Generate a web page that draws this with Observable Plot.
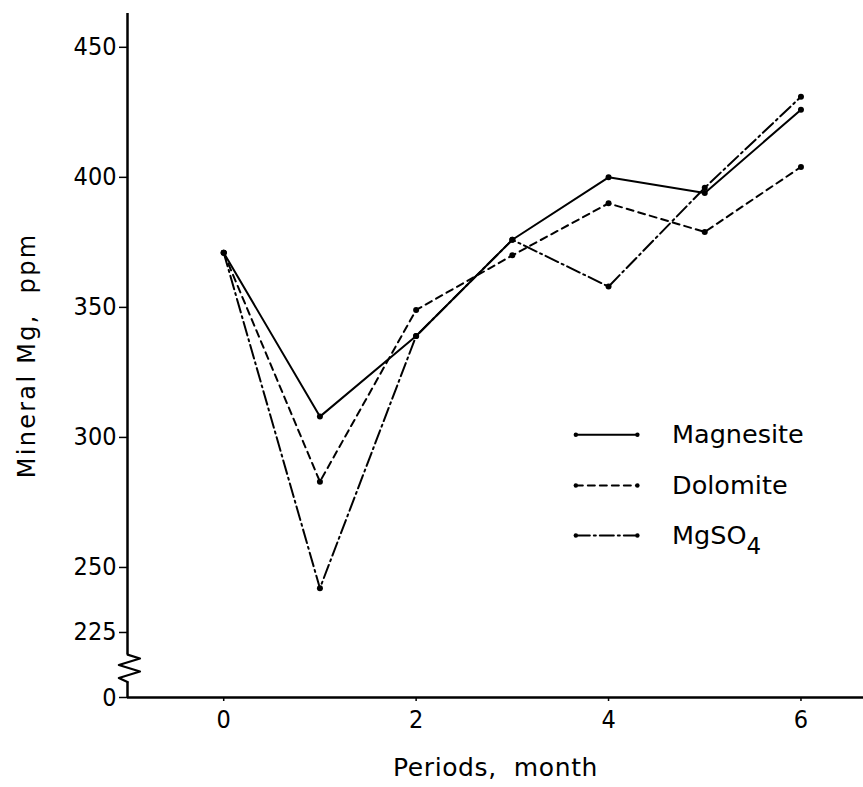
<!DOCTYPE html>
<html>
<head>
<meta charset="utf-8">
<script src="https://cdn.jsdelivr.net/npm/d3@7"></script>
<script src="https://cdn.jsdelivr.net/npm/@observablehq/plot@0.6"></script>
<style>
  html, body { margin: 0; padding: 0; background: #fff; }
  #chart { width: 863px; height: 787px; }
</style>
</head>
<body>
<div id="chart"></div>
<script>
// ---- data ----
const months    = [0, 1, 2, 3, 4, 5, 6];
const magnesite = [371, 308, 339, 376, 400, 394, 426];
const dolomite  = [371, 283, 349, 370, 390, 379, 404];
const mgso4     = [371, 242, 339, 376, 358, 396, 431];
const seriesNames = ["Magnesite", "Dolomite", "MgSO4"];
const seriesValues = [magnesite, dolomite, mgso4];
const seriesDash = [null, "7,5", "14,4,2,4"];

// broken y axis: the value 200 is drawn as "0"
const yTicks = [200, 225, 250, 300, 350, 400, 450];
const yTickLabels = ["0", "225", "250", "300", "350", "400", "450"];
const xTicks = [0, 2, 4, 6];
const xTitle = "Periods,  month";
const yTitle = "Mineral Mg,  ppm";

// legend placement (data units)
const legendX1 = 3.66, legendX2 = 4.30, legendTextX = 4.66;
const legendY = [301, 281.5, 262.3];

// axis-break zigzag (data units)
const breakX = [-1, -0.87, -1.09, -0.87, -1.09, -1];
const breakY = [216.5, 215, 212.5, 210, 207.5, 206];

const rows = [];
seriesNames.forEach((s, i) => months.forEach((m, j) => rows.push({series: s, month: m, value: seriesValues[i][j]})));

const legendRows = [];
seriesNames.forEach((s, i) => {
  legendRows.push({series: s, x: legendX1, y: legendY[i]});
  legendRows.push({series: s, x: legendX2, y: legendY[i]});
});
const breakRows = breakX.map((x, i) => ({x, y: breakY[i]}));

const tickFont = "'DejaVu Sans Condensed', 'DejaVu Sans', sans-serif";

const marks = [];
// axes lines
marks.push(Plot.ruleY([200], {stroke: "black", strokeWidth: 2.5}));
marks.push(Plot.ruleX([-1], {y1: 216.5, y2: 463, stroke: "black", strokeWidth: 2.5}));
marks.push(Plot.ruleX([-1], {y1: 200, y2: 206, stroke: "black", strokeWidth: 2.5}));
marks.push(Plot.line(breakRows, {x: "x", y: "y", stroke: "black", strokeWidth: 2.2}));

marks.push(Plot.axisX({ticks: xTicks, tickSize: 4, tickPadding: 9, label: null, fontSize: 25, fontFamily: tickFont, strokeWidth: 1.5}));
marks.push(Plot.axisX({ticks: [], label: xTitle, labelArrow: "none", labelAnchor: "center", labelOffset: 78, fontSize: 25, tickSize: 0}));
marks.push(Plot.axisY({ticks: yTicks, tickFormat: d => yTickLabels[yTicks.indexOf(d)], tickSize: 8, tickPadding: 3, label: null, fontSize: 25, fontFamily: tickFont, strokeWidth: 1.5}));
marks.push(Plot.axisY({ticks: [], label: yTitle, labelArrow: "none", labelAnchor: "center", labelOffset: 110, fontSize: 24, tickSize: 0}));

seriesNames.forEach((s, i) => {
  const d = rows.filter(r => r.series === s);
  marks.push(Plot.line(d, {x: "month", y: "value", stroke: "black", strokeWidth: 2, strokeDasharray: seriesDash[i]}));
  marks.push(Plot.dot(d, {x: "month", y: "value", r: 3, fill: "black"}));
  const l = legendRows.filter(r => r.series === s);
  marks.push(Plot.line(l, {x: "x", y: "y", stroke: "black", strokeWidth: 2, strokeDasharray: seriesDash[i]}));
  marks.push(Plot.dot(l, {x: "x", y: "y", r: 2.2, fill: "black"}));
});
marks.push(Plot.text(seriesNames, {x: legendTextX, y: (d, i) => legendY[i], text: d => d, textAnchor: "start", fontSize: 25.5, fill: "black"}));

const chart = Plot.plot({
  width: 863,
  height: 787,
  marginLeft: 127,
  marginRight: 0,
  marginTop: 13,
  marginBottom: 90,
  x: {domain: [-1, 6.65]},
  y: {domain: [200, 463]},
  style: {fontFamily: "'DejaVu Sans', sans-serif", color: "black", background: "white", overflow: "visible"},
  marks
});

chart.querySelectorAll("text").forEach(t => {
  // subscript the 4 in MgSO4
  if (t.textContent === "MgSO4") {
    const target = t.querySelector("tspan") || t;
    target.textContent = "MgSO";
    const ts = document.createElementNS("http://www.w3.org/2000/svg", "tspan");
    ts.setAttribute("dy", "0.45em");
    ts.setAttribute("font-size", "0.9em");
    ts.textContent = "4";
    target.appendChild(ts);
  }
  // wider spacing for the y title, like the typeset original
  if (t.textContent === yTitle) t.style.letterSpacing = "2.3px";
  if (t.textContent === xTitle) t.style.letterSpacing = "0.6px";
});

document.getElementById("chart").appendChild(chart);
</script>
</body>
</html>
